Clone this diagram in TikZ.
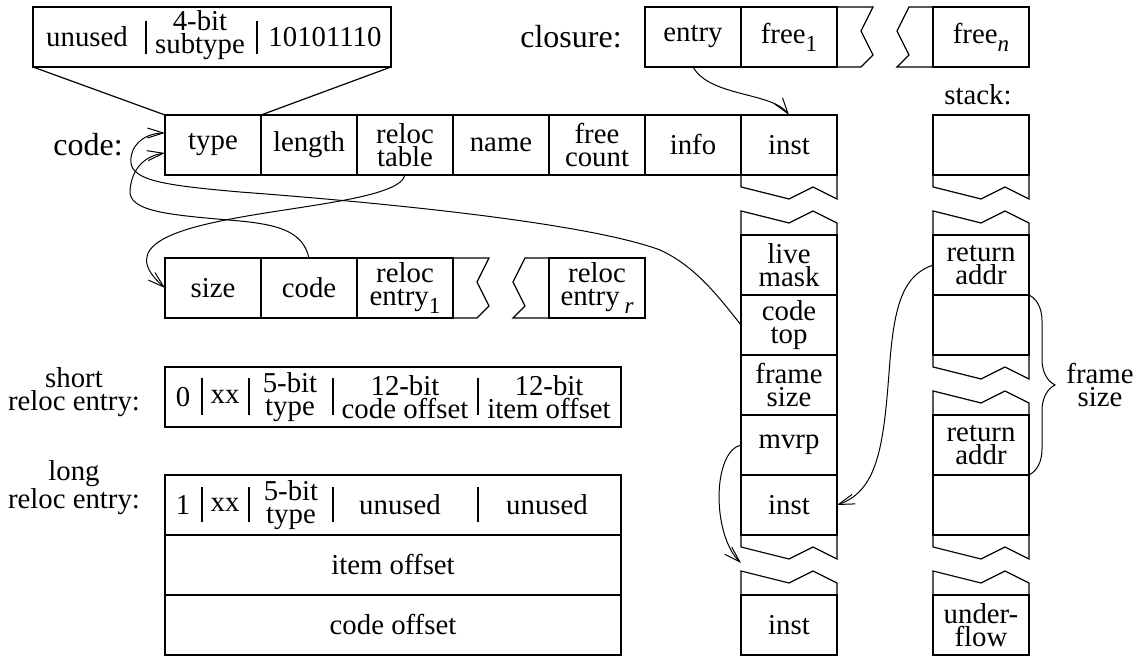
\documentclass[tikz,border=0pt]{standalone}
\usepackage{fontspec}
\setmainfont{Liberation Serif}
\usetikzlibrary{arrows.meta,decorations.pathreplacing}
\newcommand\cellfont{\fontsize{14.4}{11.5}\selectfont}
\newcommand\subs[1]{\raisebox{-0.6ex}{\fontsize{11.5}{11.5}\selectfont #1}}
\newcommand\botbreak[1]{\draw[ln] (#1.south west) -- ++(0,12) -- ++(48,12) -- ++(24,-12) -- ++(24,12) -- (#1.south east);}
\newcommand\topbreak[1]{\draw[ln] (#1.north west) -- ++(0,-24) -- ++(48,12) -- ++(24,-12) -- ++(24,12) -- (#1.north east);}
\newcommand\rbreak[1]{\draw[ln] (#1.north east) -- ++(36,0) -- ++(-12,24) -- ++(12,24) -- ++(-12,12) -- (#1.south east);}
\newcommand\lbreak[1]{\draw[ln] (#1.north west) -- ++(-24,0) -- ++(-12,24) -- ++(12,24) -- ++(-12,12) -- (#1.south west);}
\begin{document}
\begin{tikzpicture}[x=0.5pt,y=-0.5pt,
  ln/.style={line width=0.6pt},
  cell/.style={draw, line width=0.6pt, minimum width=48pt, minimum height=30pt,
    inner sep=0pt, outer sep=0pt, align=center, font=\cellfont},
  wide/.style={cell, minimum width=228pt},
  txt/.style={inner sep=0pt, align=center, font=\cellfont},
  biglabel/.style={txt, font=\fontsize{16}{13}\selectfont},
  arr/.style={line width=0.5pt, -{Straight Barb[length=8pt,width=5pt]}},
  conn/.style={line width=0.5pt}]
\useasboundingbox (0,0) rectangle (1140,656);

% top expanded type box
\node[cell, minimum width=179pt] (tbox) at (212,37) {};
\node[txt] (tb1) at (87,37) {unused};
\node[txt] (tb2) at (200,35) {4-bit\\subtype};
\node[txt] (tb3) at (325,37) {10101110};
\draw[ln] (146,21) -- (146,54);
\draw[ln] (257,21) -- (257,54);

% code row
\node[biglabel] (lcode) at (88,145) {code:};
\node[cell] (ctype) at (213,145) {type};
\node[cell] (clen) at (309,145) {length};
\node[cell] (creloc) at (405,145) {reloc\\table};
\node[cell] (cname) at (501,145) {name};
\node[cell] (cfree) at (597,145) {free\\count};
\node[cell] (cinfo) at (693,145) {info};
\node[cell] (cinst) at (789,145) {inst};
\draw[ln] (tbox.south west) -- (ctype.north west);
\draw[ln] (tbox.south east) -- (ctype.north east);

% closure
\node[biglabel] (lclos) at (571,37) {closure:};
\node[cell] (clentry) at (693,37) {entry};
\node[cell] (clfree1) at (789,37) {free\subs{1}};
\node[cell] (clfreen) at (981,37) {free\subs{\itshape n}};
\rbreak{clfree1}
\lbreak{clfreen}

% code column
\node[cell] (live) at (789,265) {live\\mask};
\node[cell] (codetop) at (789,325) {code\\top};
\node[cell] (fsize) at (789,385) {frame\\size};
\node[cell] (mvrp) at (789,445) {mvrp};
\node[cell] (inst2) at (789,505) {inst};
\node[cell] (inst3) at (789,625) {inst};
\botbreak{cinst}
\topbreak{live}
\botbreak{inst2}
\topbreak{inst3}

% stack column
\node[txt] (lstack) at (978,95) {stack:};
\node[cell] (s0) at (981,145) {};
\node[cell] (ret1) at (981,265) {return\\addr};
\node[cell] (s1) at (981,325) {};
\node[cell] (ret2) at (981,445) {return\\addr};
\node[cell] (s2) at (981,505) {};
\node[cell] (under) at (981,625) {under-\\flow};
\botbreak{s0}
\topbreak{ret1}
\botbreak{s1}
\topbreak{ret2}
\botbreak{s2}
\topbreak{under}
\draw[conn, decorate, decoration={brace, amplitude=13pt, aspect=0.5}] (s1.north east) -- (s2.north east);
\node[txt] (lframe) at (1100,385) {frame\\size};

% reloc table row
\node[cell] (rsize) at (213,288) {size};
\node[cell] (rcode) at (309,288) {code};
\node[cell] (rent1) at (405,288) {reloc\\entry\subs{1}};
\node[cell] (rentr) at (597,288) {reloc\\entry\,\subs{\itshape r}};
\rbreak{rent1}
\lbreak{rentr}

% short reloc entry
\node[txt] (lshort) at (74,392) {short\\reloc entry:};
\node[wide] (sbox) at (393,397) {};
\node[txt] (s0t) at (183,397) {0};
\node[txt] (sxx) at (225,397) {xx};
\node[txt] (stype) at (290,397) {5-bit\\type};
\node[txt] (scode) at (405,397) {12-bit\\code offset};
\node[txt] (sitem) at (549,397) {12-bit\\item offset};
\foreach \xx in {202,249,333,478} \draw[ln] (\xx,378) -- (\xx,415);

% long reloc entry
\node[txt] (llong) at (74,488) {long\\reloc entry:};
\node[wide] (lrow1) at (393,505) {};
\node[wide] (lrow2) at (393,565) {item offset};
\node[wide] (lrow3) at (393,625) {code offset};
\node[txt] (l1t) at (183,505) {1};
\node[txt] (lxx) at (225,505) {xx};
\node[txt] (ltype) at (291,505) {5-bit\\type};
\node[txt] (lun1) at (400,505) {unused};
\node[txt] (lun2) at (547,505) {unused};
\foreach \xx in {202,249,333,478} \draw[ln] (\xx,487) -- (\xx,522);

% connectors
\coordinate (typeA) at (165,133);
\coordinate (typeB) at (165,153);
\coordinate (mvrptgt) at (741,563);
\draw[arr] (clentry.south) .. controls (710,97) and (772,92) .. (cinst.north);
\draw[arr] (creloc.south) .. controls (395,218) and (70,205) .. (rsize.west);
\draw[arr] (codetop.west) .. controls (718,296) and (695,266) .. (660,250)
   .. controls (590,224) and (400,204) .. (240,192)
   .. controls (160,185) and (128,180) .. (131,158)
   .. controls (133,140) and (150,133) .. (typeA);
\draw[arr] (rcode.north) .. controls (303,232) and (280,225) .. (240,221)
   .. controls (170,215) and (128,212) .. (130,190)
   .. controls (132,168) and (145,156) .. (typeB);
\draw[arr] (ret1.west) .. controls (905,275) and (895,300) .. (890,360)
   .. controls (884,440) and (880,490) .. (inst2.east);
\draw[arr] (mvrp.west) .. controls (712,452) and (712,535) .. (mvrptgt);
\end{tikzpicture}
\end{document}
